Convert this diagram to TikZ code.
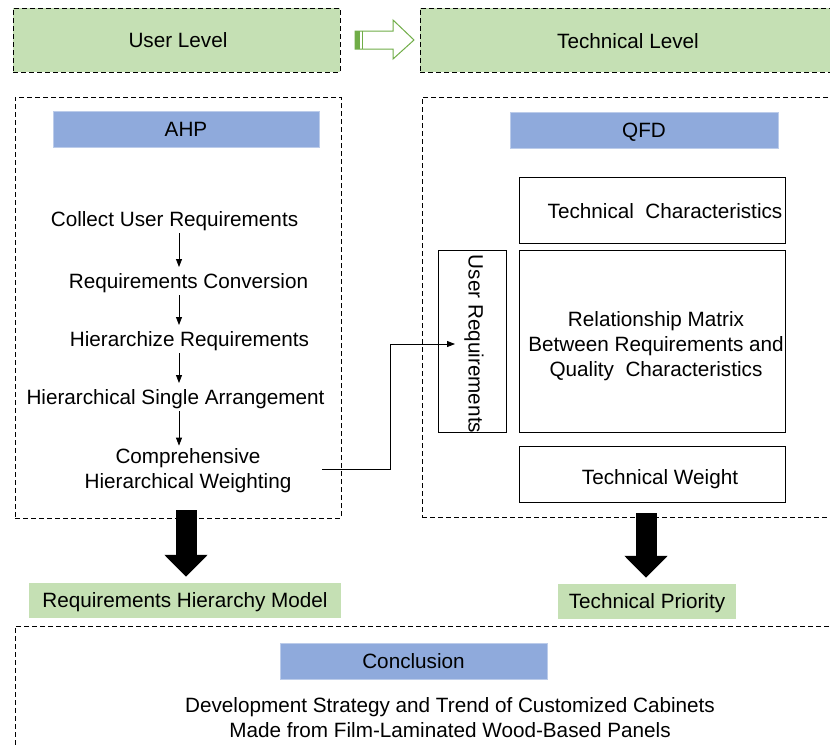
\documentclass[tikz,border=0pt]{standalone}
\usepackage{fontspec}
\setmainfont{Liberation Sans}
\usetikzlibrary{
    arrows.meta,
    positioning
}
\definecolor{levelgreen}{HTML}{C5E0B4}
\definecolor{methodblue}{HTML}{8FAADC}
\definecolor{arrowgreen}{HTML}{70AD47}
\tikzset{
    framebox/.style={draw, dash pattern=on 5pt off 3pt, line width=0.9pt, inner sep=0pt},
    levelbox/.style={framebox, fill=levelgreen},
    resultbox/.style={fill=levelgreen, inner sep=0pt, text height=18pt, text depth=3.6pt},
    methodbox/.style={fill=methodblue, draw=methodblue!60, inner sep=0pt, text height=18pt, text depth=3.6pt},
    stepnode/.style={inner sep=3pt, text height=18pt, text depth=3.6pt},
    matrixbox/.style={draw, line width=0.9pt, inner sep=0pt},
    steparrow/.style={-{Triangle[length=8pt, width=6pt]}, line width=0.8pt},
    blockarrow/.style={line width=21pt, -{Triangle[length=22pt, width=42pt]}}
}

\begin{document}
\begin{tikzpicture}[x=1pt, y=-1pt, font=\fontsize{20.7}{25}\selectfont]
                                \fill[white] (0, 0) rectangle (830, 745);
                                \useasboundingbox (0, 0) rectangle (830, 745);
                                % levels
                                \node[levelbox, minimum width=327, minimum height=64] (user) at (176.5, 40) {};
                                \node[stepnode] (usertext) at (178, 40) {User Level};
                                \node[levelbox, minimum width=415, minimum height=64] (tech) at (627.5, 40) {};
                                \node[stepnode] (techtext) at (628, 41) {Technical Level};
                                \filldraw[draw=arrowgreen, fill=white, line width=1pt]
                                (355, 31) -- (393, 31) -- (393, 20) -- (414, 40) -- (393, 59) -- (393, 49) -- (355, 49) -- cycle;
                                \fill[arrowgreen] (355, 31) rectangle (360, 49);
                                \draw[arrowgreen, line width=1pt] (362.5, 31) -- (362.5, 49);
                                % AHP side
                                \node[framebox, minimum width=326, minimum height=421] (ahpframe) at (178, 307.5) {};
                                \node[methodbox, minimum width=266, minimum height=36] (ahp) at (186, 129) {AHP};
                                \node[stepnode] (s1) at (174.5, 219) {Collect User Requirements};
                                \node[stepnode] (s2) at (188.5, 281) {Requirements Conversion};
                                \node[stepnode] (s3) at (189.5, 339) {Hierarchize Requirements};
                                \node[stepnode] (s4) at (175.5, 397) {Hierarchical Single Arrangement};
                                \node[align=center, inner sep=3pt] (s5) at (188, 471) {Comprehensive\\Hierarchical Weighting};
                                \coordinate (ax) at (179, 0);
                                \draw
                                (s1.south -| ax) edge[steparrow] (s2.north -| ax)
                                (s2.south -| ax) edge[steparrow] (s3.north -| ax)
                                (s3.south -| ax) edge[steparrow] (s4.north -| ax)
                                (s4.south -| ax) edge[steparrow] (s5.north -| ax);
                                % QFD side
                                \node[framebox, minimum width=413, minimum height=420] (qfdframe) at (628.5, 307) {};
                                \node[methodbox, minimum width=268, minimum height=36] (qfd) at (644, 130) {QFD};
                                \node[matrixbox, minimum width=266, minimum height=66] (tc) at (652, 210) {};
                                \node[stepnode] (tctext) at (665, 211) {Technical\ \ Characteristics};
                                \node[matrixbox, minimum width=68, minimum height=182] (ureq) at (472, 341) {};
                                \node[rotate=-90] (ureqtext) at (474, 344) {User Requirements};
                                \node[matrixbox, minimum width=266, minimum height=182] (rm) at (652, 341) {};
                                \node[align=center] (rmtext) at (656, 346) {Relationship Matrix\\Between Requirements and\\Quality\ \ Characteristics};
                                \node[matrixbox, minimum width=266, minimum height=56] (tw) at (652, 474) {};
                                \node[stepnode] (twtext) at (660, 477) {Technical Weight};
                                \coordinate (wout) at (322, 469);
                                \coordinate (uin) at (455, 344);
                                \draw[steparrow] (wout) -- (390, 469) |- (uin);
                                % results
                                \node[resultbox, minimum width=312, minimum height=35] (rhm) at (185, 600.5) {Requirements Hierarchy Model};
                                \node[resultbox, minimum width=178, minimum height=35] (tp) at (647, 601.5) {Technical Priority};
                                \coordinate (lx) at (186, 0);
                                \coordinate (rx) at (646, 0);
                                \draw[blockarrow] ([yshift=8]ahpframe.south -| lx) -- ([yshift=6]rhm.north -| lx);
                                \draw[blockarrow] ([yshift=4]qfdframe.south -| rx) -- ([yshift=6]tp.north -| rx);
                                % conclusion
                                \node[framebox, minimum width=820, minimum height=134] (conframe) at (425, 693) {};
                                \node[methodbox, minimum width=267, minimum height=36] (con) at (413.5, 661) {Conclusion};
                                \node[align=center] (context) at (450, 718) {Development Strategy and Trend of Customized Cabinets\\Made from Film-Laminated Wood-Based Panels};
                            \end{tikzpicture}
\end{document}
